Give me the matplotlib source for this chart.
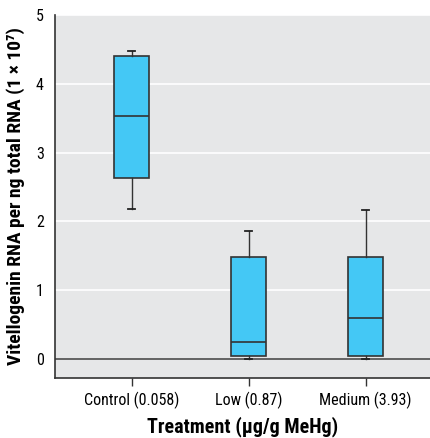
import matplotlib
matplotlib.use("Agg")
import matplotlib.pyplot as plt

plt.rcParams['font.family'] = ['Roboto Condensed', 'DejaVu Sans']

categories = ["Control (0.058)", "Low (0.87)", "Medium (3.93)"]
whislo = [2.18, 0.005, 0.005]
q1 = [2.635, 0.04, 0.04]
med = [3.535, 0.25, 0.60]
q3 = [4.40, 1.478, 1.478]
whishi = [4.48, 1.86, 2.165]
yticks = [0, 1, 2, 3, 4, 5]

stats = []
for i, c in enumerate(categories):
    stats.append(dict(label=c, whislo=whislo[i], q1=q1[i], med=med[i], q3=q3[i], whishi=whishi[i], fliers=[]))

fig = plt.figure(figsize=(4.3, 4.38), dpi=100)
ax = fig.add_axes([0.128, 0.137, 0.872, 0.829])
ax.set_facecolor('#e6e7e8')
for y in yticks[1:]:
    ax.axhline(y, color='white', lw=1.2, zorder=0)
ax.axhline(0, color='#4d4d4d', lw=1.2, zorder=1)

ax.bxp(stats, positions=[0, 1, 2], widths=0.30, patch_artist=True, showfliers=False,
       boxprops=dict(facecolor='#44c8f5', edgecolor='#333333', lw=1.2),
       medianprops=dict(color='#333333', lw=1.2),
       whiskerprops=dict(color='#333333', lw=1.0),
       capprops=dict(color='#222222', lw=1.3), capwidths=0.06, zorder=3)

ax.set_xlim(-0.655, 2.55)
ax.set_ylim(-0.276, 5)
ax.set_yticks(yticks)
ax.set_xticks([0, 1, 2])
ax.set_xticklabels(categories, fontsize=11.5)
ax.tick_params(axis='y', length=0, labelsize=11.5, pad=8)
ax.tick_params(axis='x', length=6, width=1, color='#333333', labelsize=11.5, pad=4)
for s in ['top', 'right']:
    ax.spines[s].set_visible(False)
for s in ['left', 'bottom']:
    ax.spines[s].set_color('#333333')
    ax.spines[s].set_linewidth(1.2)
ax.set_ylabel("Vitellogenin RNA per ng total RNA (1 × 10⁷)", fontsize=14, fontweight='bold', labelpad=8)
ax.set_xlabel("Treatment (μg/g MeHg)", fontsize=14.5, fontweight='bold', labelpad=5)
fig.savefig("out.png", dpi=100)
